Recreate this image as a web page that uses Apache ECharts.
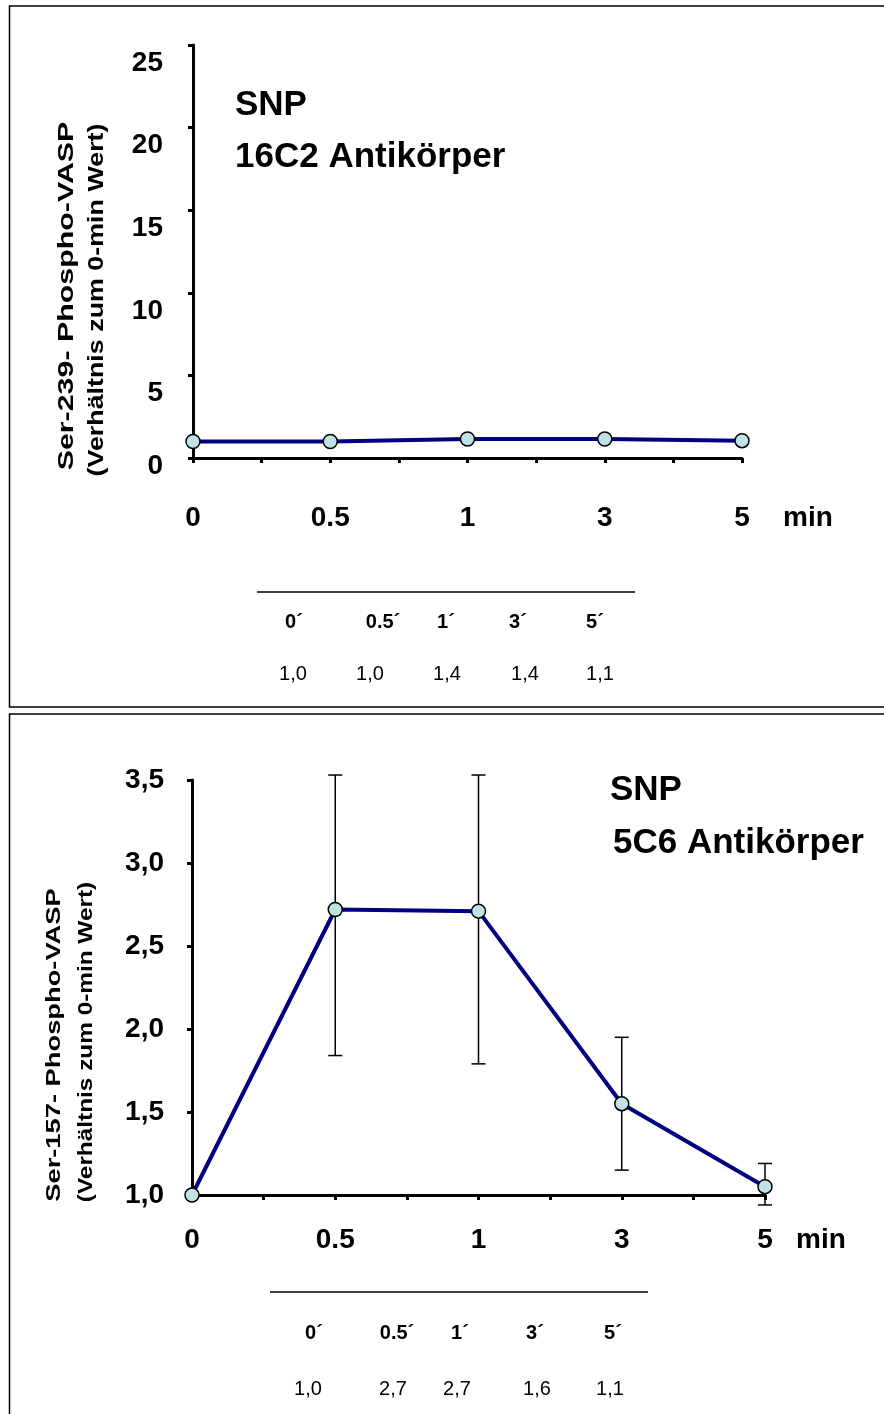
<!DOCTYPE html>
<html><head><meta charset="utf-8">
<script src="https://cdn.jsdelivr.net/npm/echarts@6/dist/echarts.min.js"></script>
<style>html,body{margin:0;padding:0;background:#fff}#c{width:884px;height:1414px}</style>
</head><body><div id="c"></div>
<script>
// ---- data ----
const timeLabels = ['0', '0.5', '1', '3', '5'];
const tableHeaders = ['0´', '0.5´', '1´', '3´', '5´'];
// Chart 1: Ser-239 (16C2)
const ser239Values = [1.0, 1.0, 1.15, 1.15, 1.05];
const ser239Table = ['1,0', '1,0', '1,4', '1,4', '1,1'];
const yTicks1 = [0, 5, 10, 15, 20, 25];
// Chart 2: Ser-157 (5C6)
const ser157Values = [1.0, 2.72, 2.71, 1.55, 1.05];
const ser157Upper = [1.0, 3.53, 3.53, 1.95, 1.19];
const ser157Lower = [1.0, 1.84, 1.79, 1.15, 0.94];
const ser157Table = ['1,0', '2,7', '2,7', '1,6', '1,1'];
const yTicks2 = [1.0, 1.5, 2.0, 2.5, 3.0, 3.5];
const unitLabel = 'min';

// category slots: each time point sits on every second tick
const slots = [];
timeLabels.forEach((t, i) => { slots.push(t); if (i < timeLabels.length - 1) slots.push(''); });
const toSlots = arr => { const out = []; arr.forEach((v, i) => { out.push(v); if (i < arr.length - 1) out.push(null); }); return out; };

const FONT = '"Liberation Sans", Arial, sans-serif';
const lineColor = '#000080';
const markerFill = '#bfe2e6';
const AX = 28;

const chart = echarts.init(document.getElementById('c'), null, {renderer: 'canvas'});

function xAxisDef(gridIndex, labelMargin) {
  return {
    type: 'category', gridIndex, data: slots, boundaryGap: false,
    axisLine: {lineStyle: {color: '#000', width: 3}},
    axisTick: {show: true, interval: 0, length: 5, inside: false, lineStyle: {color: '#000', width: 3}},
    axisLabel: {interval: 0, margin: labelMargin, color: '#000', fontFamily: FONT, fontWeight: 'bold', fontSize: AX},
    splitLine: {show: false}
  };
}

const errData = ser157Values.map((v, i) => [i * 2, ser157Lower[i], ser157Upper[i]]).filter(d => d[2] - d[1] > 0.001);

const option = {
  animation: false,
  backgroundColor: '#fff',
  grid: [
    {left: 193, top: 45, width: 549, height: 413},
    {left: 192, top: 780, width: 573, height: 415}
  ],
  xAxis: [xAxisDef(0, 46), xAxisDef(1, 31)],
  yAxis: [
    {
      type: 'value', gridIndex: 0, min: yTicks1[0], max: yTicks1[yTicks1.length - 1], interval: 5,
      axisLine: {show: true, lineStyle: {color: '#000', width: 3}},
      axisTick: {show: true, inside: false, length: 5, lineStyle: {color: '#000', width: 3}},
      splitLine: {show: false},
      axisLabel: {
        margin: 30, color: '#000', fontFamily: FONT, fontWeight: 'bold', fontSize: AX, verticalAlign: 'top',
        formatter: v => v === 0 ? '{z|0}' : '{n|' + v + '}',
        rich: {
          n: {fontFamily: FONT, fontWeight: 'bold', fontSize: AX, lineHeight: 36, color: '#000'},
          z: {fontFamily: FONT, fontWeight: 'bold', fontSize: AX, lineHeight: 16, color: '#000'}
        }
      }
    },
    {
      type: 'value', gridIndex: 1, min: yTicks2[0], max: yTicks2[yTicks2.length - 1], interval: 0.5,
      axisLine: {show: true, lineStyle: {color: '#000', width: 3}},
      axisTick: {show: true, inside: false, length: 5, lineStyle: {color: '#000', width: 3}},
      splitLine: {show: false},
      axisLabel: {
        margin: 28, color: '#000', fontFamily: FONT, fontWeight: 'bold', fontSize: AX,
        formatter: v => v.toFixed(1).replace('.', ',')
      }
    }
  ],
  series: [
    {
      type: 'line', xAxisIndex: 0, yAxisIndex: 0, data: toSlots(ser239Values), connectNulls: true,
      lineStyle: {color: lineColor, width: 4}, symbol: 'circle', symbolSize: 14,
      itemStyle: {color: markerFill, borderColor: '#000', borderWidth: 1.5}, z: 3
    },
    {
      type: 'custom', xAxisIndex: 1, yAxisIndex: 1, data: errData, clip: false, z: 2,
      renderItem: (params, api) => {
        const x = api.value(0);
        const lo = api.coord([x, api.value(1)]);
        const hi = api.coord([x, api.value(2)]);
        const w = 7;
        const st = {stroke: '#000', lineWidth: 1.5};
        return {type: 'group', children: [
          {type: 'line', shape: {x1: lo[0], y1: lo[1], x2: hi[0], y2: hi[1]}, style: st},
          {type: 'line', shape: {x1: hi[0] - w, y1: hi[1], x2: hi[0] + w, y2: hi[1]}, style: st},
          {type: 'line', shape: {x1: lo[0] - w, y1: lo[1], x2: lo[0] + w, y2: lo[1]}, style: st}
        ]};
      }
    },
    {
      type: 'line', xAxisIndex: 1, yAxisIndex: 1, data: toSlots(ser157Values), connectNulls: true,
      lineStyle: {color: lineColor, width: 4}, symbol: 'circle', symbolSize: 14,
      itemStyle: {color: markerFill, borderColor: '#000', borderWidth: 1.5}, z: 3
    }
  ],
  graphic: (function () {
    const g = [];
    // panel borders
    g.push({type: 'rect', shape: {x: 9.5, y: 6, width: 900, height: 701}, style: {fill: 'none', stroke: '#000', lineWidth: 1.5}, silent: true});
    g.push({type: 'rect', shape: {x: 9.5, y: 714, width: 900, height: 720}, style: {fill: 'none', stroke: '#000', lineWidth: 1.5}, silent: true});
    const bold = s => ({fontFamily: FONT, fontWeight: 'bold', fontSize: s, fill: '#000'});
    const txt = (x, y, text, size, extra) => Object.assign({type: 'text', x, y, style: Object.assign({text, textVerticalAlign: 'middle'}, bold(size))}, extra || {});
    // unit labels
    g.push(txt(783, 518, unitLabel, AX));
    g.push(txt(796, 1240, unitLabel, AX));
    // chart 1 annotations
    g.push(txt(235, 105, 'SNP', 35));
    g.push(txt(235, 157, '16C2 Antikörper', 35));
    const rot = (x, y, text, size, sx) => ({type: 'text', x, y, rotation: Math.PI / 2, scaleX: sx, scaleY: 1, style: Object.assign({text, textAlign: 'center', textVerticalAlign: 'middle'}, bold(size))});
    g.push(rot(67, 296, 'Ser-239- Phospho-VASP', 22, 1.38));
    g.push(rot(97, 300, '(Verhältnis zum 0-min Wert)', 22, 1.22));
    // chart 2 annotations
    g.push(txt(610, 790, 'SNP', 35));
    g.push(txt(613, 843, '5C6 Antikörper', 35));
    g.push(rot(54, 1045, 'Ser-157- Phospho-VASP', 21, 1.3));
    g.push(rot(86, 1042, '(Verhältnis zum 0-min Wert)', 21, 1.16));
    // tables
    g.push({type: 'line', shape: {x1: 257, y1: 592, x2: 635, y2: 592}, style: {stroke: '#000', lineWidth: 1.5}});
    g.push({type: 'line', shape: {x1: 270, y1: 1292, x2: 648, y2: 1292}, style: {stroke: '#000', lineWidth: 1.5}});
    const hx1 = [294, 383, 446, 518, 595], vx1 = [293, 370, 447, 525, 600];
    const hx2 = [314, 397, 460, 535, 613], vx2 = [308, 393, 457, 537, 610];
    const norm = (x, y, text) => ({type: 'text', x, y, style: {text, textAlign: 'center', textVerticalAlign: 'middle', fontFamily: FONT, fontSize: 20, fill: '#000'}});
    const hdr = (x, y, text) => ({type: 'text', x, y, style: Object.assign({text, textAlign: 'center', textVerticalAlign: 'middle'}, bold(20))});
    tableHeaders.forEach((h, i) => {
      g.push(hdr(hx1[i], 622, h));
      g.push(norm(vx1[i], 674, ser239Table[i]));
      g.push(hdr(hx2[i], 1333, h));
      g.push(norm(vx2[i], 1389, ser157Table[i]));
    });
    return g;
  })()
};
chart.setOption(option);
</script>
</body></html>
